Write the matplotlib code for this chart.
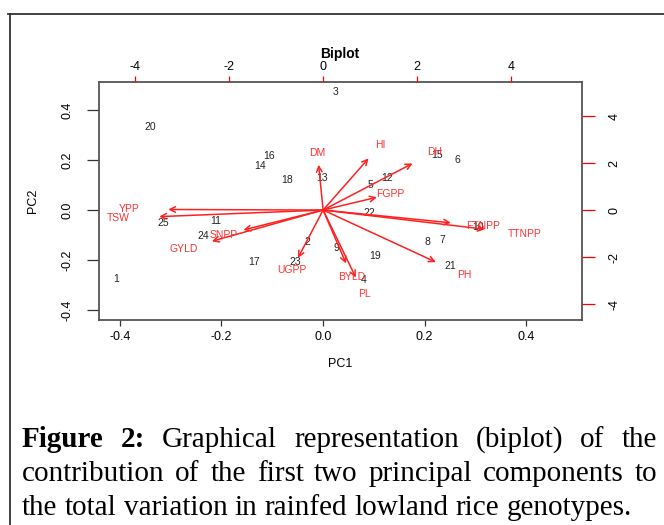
import matplotlib
matplotlib.use('Agg')
import matplotlib.pyplot as plt
from matplotlib.lines import Line2D

plt.rcParams['font.family'] = ['Liberation Sans', 'DejaVu Sans']

W, H = 664, 525

# genotype scores on PC1 / PC2 (bottom / left axes)
genotypes = [str(i) for i in range(1, 26)]
pc1 = [-0.407, -0.031, 0.024, 0.081, 0.094, 0.265, 0.235, 0.206, 0.026, 0.306,
       -0.211, 0.127, -0.001, -0.124, 0.224, -0.106, -0.136, -0.070, 0.102, -0.340,
       0.250, 0.091, -0.054, -0.236, -0.315]
pc2 = [-0.275, -0.127, 0.473, -0.280, 0.099, 0.200, -0.120, -0.129, -0.153, -0.067,
       -0.043, 0.129, 0.127, 0.177, 0.220, 0.216, -0.208, 0.120, -0.183, 0.331,
       -0.224, -0.013, -0.208, -0.103, -0.053]

# trait loadings (top / right axes), arrows drawn to 0.8 of them like R biplot
traits = ['DM', 'HI', 'DH', 'FGPP', 'FTNPP', 'TTNPP', 'PH', 'PL', 'BYLD', 'UGPP',
          'GYLD', 'SNPP', 'YPP', 'TSW']
load1 = [-0.12, 1.21, 2.38, 1.43, 3.40, 4.30, 3.00, 0.87, 0.61, -0.67, -2.96, -2.12, -4.12, -4.36]
load2 = [2.41, 2.75, 2.48, 0.68, -0.68, -1.02, -2.77, -3.59, -2.84, -2.55, -1.66, -1.06, 0.03, -0.35]
arrow_len = 0.8

pc_ticks = [-0.4, -0.2, 0.0, 0.2, 0.4]
pc_ticklabels = ['-0.4', '-0.2', '0.0', '0.2', '0.4']
var_ticks = [-4, -2, 0, 2, 4]
var_ticklabels = ['-4', '-2', '0', '2', '4']

caption = [
    (['Figure', '2:', 'Graphical', 'representation', '(biplot)', 'of', 'the'], 2, True),
    (['contribution', 'of', 'the', 'first', 'two', 'principal', 'components', 'to'], 0, True),
    (['the', 'total', 'variation', 'in', 'rainfed', 'lowland', 'rice', 'genotypes.'], 0, False),
]

fig = plt.figure(figsize=(W / 100, H / 100), dpi=100)
rect = [99 / W, 1 - 320 / H, 483 / W, 238 / H]

# frame of the screenshot
fig.add_artist(Line2D([8 / W, 1], [1 - 14 / H, 1 - 14 / H], color='#333333', lw=1.3, transform=fig.transFigure))
fig.add_artist(Line2D([9.5 / W, 9.5 / W], [0, 1 - 14 / H], color='#333333', lw=1.3, transform=fig.transFigure))

ax = fig.add_axes(rect)
ax.set_xlim(-0.441, 0.510)
ax.set_ylim(-0.44, 0.512)
for g, x, y in zip(genotypes, pc1, pc2):
    ax.text(x, y, g, ha='center', va='center', fontsize=7.5, color='#222222')
ax.set_xticks(pc_ticks)
ax.set_xticklabels(pc_ticklabels)
ax.set_yticks(pc_ticks)
ax.set_yticklabels(pc_ticklabels, rotation=90, va='center')
ax.tick_params(axis='x', length=4.3, width=0.9, pad=3.5, labelsize=9, color='#333333')
ax.tick_params(axis='y', length=8.6, width=0.9, pad=10, labelsize=9, color='#333333')
ax.set_xlabel('PC1', fontsize=9, va='center')
ax.xaxis.set_label_coords(0.5, (320 - 364) / 238)
ax.set_ylabel('PC2', fontsize=9, va='center')
ax.yaxis.set_label_coords((33 - 99) / 483, 0.5)
for s in ax.spines.values():
    s.set_color('#555555')
    s.set_linewidth(1.3)

ax2 = fig.add_axes(rect, frameon=False)
ax2.set_xlim(-4.77, 5.51)
ax2.set_ylim(-4.68, 5.45)
ax2.xaxis.tick_top()
ax2.yaxis.tick_right()
ax2.set_xticks(var_ticks)
ax2.set_xticklabels(var_ticklabels)
ax2.set_yticks(var_ticks)
ax2.set_yticklabels(var_ticklabels, rotation=90, va='center')
ax2.tick_params(axis='x', length=4.3, width=0.9, pad=2, labelsize=9, color='red', labelcolor='black')
ax2.tick_params(axis='y', length=9.3, width=0.9, pad=10, labelsize=9, color='red', labelcolor='black')
for name, x, y in zip(traits, load1, load2):
    ax2.annotate('', xy=(arrow_len * x, arrow_len * y), xytext=(0, 0),
                 arrowprops=dict(arrowstyle='->', color='#ff2020', lw=1.1,
                                 shrinkA=0, shrinkB=0, mutation_scale=10))
    ax2.text(x, y, name, color='#ff3030', ha='center', va='center', fontsize=7.5)

fig.text(340 / W, 1 - 54 / H, 'Biplot', fontsize=10, fontweight='bold', ha='center', va='center')

# justified caption
renderer = fig.canvas.get_renderer()
cap_size = 21
baselines = [447, 481, 515]
for (words, nbold, justify), yb in zip(caption, baselines):
    objs = []
    for i, w in enumerate(words):
        t = fig.text(0, 1 - yb / H, w, fontsize=cap_size, family='Liberation Serif',
                     fontweight='bold' if i < nbold else 'normal', va='baseline', ha='left')
        objs.append(t)
    widths = [t.get_window_extent(renderer).width for t in objs]
    x0, x1 = 22, 657
    if justify:
        gap = (x1 - x0 - sum(widths)) / (len(words) - 1)
    else:
        gap = 0.25 * cap_size * 100 / 72
    x = x0
    for t, w in zip(objs, widths):
        t.set_x(x / W)
        x += w + gap

fig.savefig('out.png', dpi=100)
